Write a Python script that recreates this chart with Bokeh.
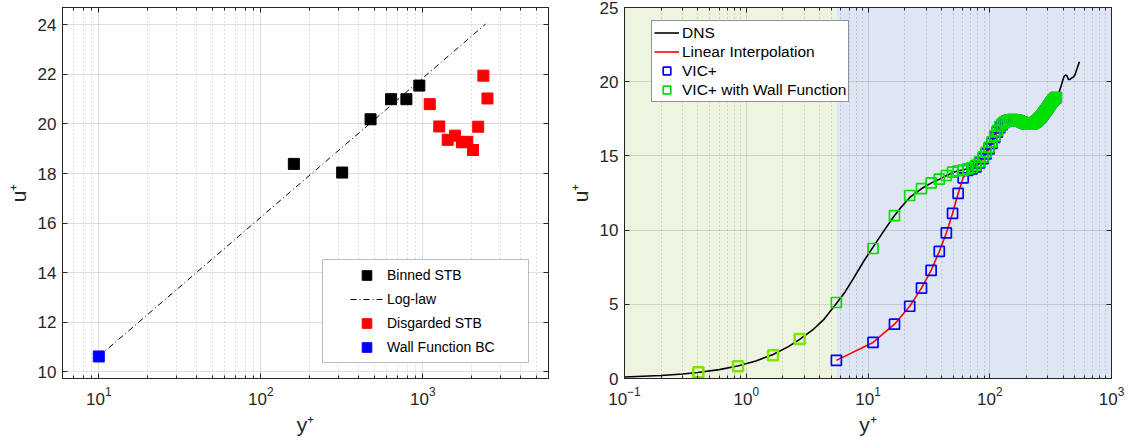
from bokeh.plotting import figure
from bokeh.layouts import row
from bokeh.models import (LogAxis, LinearAxis, Legend, LegendItem, BoxAnnotation,
                          FixedTicker, Range1d)
from bokeh.embed import file_html
from bokeh.resources import INLINE

# ---------------- data: left panel (STB profile) ----------------
binned_yp = [160, 318, 476, 637, 792, 952]
binned_up = [18.39, 18.04, 20.19, 21.00, 21.00, 21.55]
disc_yp = [1104, 1264, 1424, 1582, 1746, 1883, 2042, 2198, 2366, 2507]
disc_up = [20.80, 19.90, 19.36, 19.53, 19.26, 19.28, 18.95, 19.89, 21.95, 21.03]
wall_yp = [10]
wall_up = [10.62]
loglaw_yp = [10, 2440]
loglaw_up = [10.62, 24.03]
left_xticks = [10, 100, 1000]
left_yticks = [10, 12, 14, 16, 18, 20, 22, 24]

# ---------------- data: right panel (DNS vs VIC+) ----------------
region_edges = [0.1, 5.5, 1000]
region_top = 25
dns_yp = [0.1, 0.2, 0.3, 0.4, 0.6, 0.85, 1.2, 1.66, 2.2, 2.75, 3.6, 4.3, 5.5, 6.5, 7.6,
          9.3, 11.0, 13.5, 16.4, 19.0, 22.0, 27.6, 33.5, 39.0, 44.4, 50.0, 55.0, 60.5,
          66.0, 71.5, 77.0, 82.5, 88.0, 93.5, 99.0, 104.5, 110.0, 115.5, 121.0, 132.0,
          143.0, 154.0, 165.0, 176.0, 187.0, 198.0, 209.0, 220.0, 231.0, 242.0, 253.0,
          264.0, 275.0, 286.0, 297.0, 308.0, 319.0, 330.0, 341.0, 352.0, 368.0, 385.0,
          407.0, 420.0, 430.0, 443.0, 455.0, 470.0, 484.0, 500.0, 520.0, 545.0]
dns_up = [0.10, 0.20, 0.30, 0.40, 0.60, 0.84, 1.18, 1.62, 2.13, 2.64, 3.35, 3.95, 5.05, 5.85, 6.75,
          7.95, 8.85, 9.95, 10.95, 11.60, 12.20, 12.80, 13.20, 13.45, 13.68, 13.88, 14.00, 14.05,
          14.15, 14.25, 14.40, 14.66, 14.95, 15.25, 15.60, 16.00, 16.45, 16.75, 17.00, 17.27,
          17.40, 17.44, 17.41, 17.34, 17.26, 17.18, 17.14, 17.16, 17.23, 17.33, 17.48,
          17.64, 17.82, 18.02, 18.20, 18.40, 18.58, 18.74, 18.86, 18.93, 19.20, 19.70,
          20.35, 20.45, 20.40, 20.15, 20.15, 20.25, 20.30, 20.45, 20.85, 21.35]

wfnear_yp = [0.404, 0.856, 1.66, 2.75]
wfnear_up = [0.42, 0.83, 1.56, 2.66]

vicwf_yp = [5.5, 11, 16.5, 22, 27.5, 33, 38.5, 44, 49.5, 55, 60.5, 66, 71.5, 77, 82.5, 88,
            93.5, 99, 104.5, 110, 115.5, 121, 126.5, 132, 137.5, 143, 148.5, 154, 159.5, 165,
            170.5, 176, 181.5, 187, 192.5, 198, 203.5, 209, 214.5, 220, 225.5, 231, 236.5, 242,
            247.5, 253, 258.5, 264, 269.5, 275, 280.5, 286, 291.5, 297, 302.5, 308, 313.5, 319,
            324.5, 330, 335.5, 341, 346.5, 352]
vicwf_up = [5.12, 8.76, 10.97, 12.33, 12.80, 13.18, 13.43, 13.68, 13.90, 14.00, 14.04, 14.12,
            14.22, 14.36, 14.62, 14.92, 15.24, 15.58, 15.95, 16.35, 16.70, 16.98, 17.15, 17.27,
            17.35, 17.40, 17.43, 17.44, 17.43, 17.41, 17.38, 17.34, 17.30, 17.26, 17.22, 17.18,
            17.16, 17.14, 17.14, 17.16, 17.19, 17.23, 17.28, 17.33, 17.40, 17.48, 17.56, 17.64,
            17.73, 17.82, 17.92, 18.02, 18.10, 18.20, 18.30, 18.40, 18.50, 18.58, 18.66, 18.74,
            18.80, 18.86, 18.90, 18.93]

vic_yp = [5.5, 11, 16.5, 22, 27.5, 33, 38.5, 44, 49.5, 55, 60.5, 66, 71.5, 77, 82.5, 88,
          93.5, 99, 104.5, 110, 115.5, 121, 126.5, 132, 137.5, 143, 148.5, 154, 159.5, 165,
          170.5, 176, 181.5, 187, 192.5, 198, 203.5, 209, 214.5, 220, 225.5, 231, 236.5, 242,
          247.5, 253, 258.5, 264, 269.5, 275, 280.5, 286, 291.5, 297, 302.5, 308, 313.5, 319,
          324.5, 330, 335.5, 341, 346.5, 352]
vic_up = [1.22, 2.43, 3.66, 4.87, 6.09, 7.28, 8.56, 9.81, 11.13, 12.47, 13.52, 14.02,
          14.12, 14.26, 14.52, 14.82, 15.14, 15.48, 15.85, 16.25, 16.60, 16.90, 17.10, 17.25,
          17.35, 17.40, 17.43, 17.44, 17.43, 17.41, 17.38, 17.34, 17.30, 17.26, 17.22, 17.18,
          17.16, 17.14, 17.14, 17.16, 17.19, 17.23, 17.28, 17.33, 17.40, 17.48, 17.56, 17.64,
          17.73, 17.82, 17.92, 18.02, 18.10, 18.20, 18.30, 18.40, 18.50, 18.58, 18.66, 18.74,
          18.80, 18.86, 18.90, 18.93]
right_xticks = [0.1, 1, 10, 100, 1000]
right_yticks = [0, 5, 10, 15, 20, 25]

FONT = "Liberation Sans"
TXT = "#262626"
GREEN = "#00E000"
LIME = "#7FE600"
BLUE = "#0000FF"
RED = "#FF0000"


def log_minor(decades):
    return [m * 10.0 ** e for e in decades for m in range(2, 10)]


left_xticker = FixedTicker(ticks=left_xticks, minor_ticks=[6, 7, 8, 9] + log_minor([1, 2, 3]))
right_xticker = FixedTicker(ticks=right_xticks, minor_ticks=log_minor([-1, 0, 1, 2]))


def style_axis(ax, lab=True):
    ax.axis_line_color = TXT
    ax.major_tick_in = 5
    ax.major_tick_out = 0
    ax.minor_tick_in = 3
    ax.minor_tick_out = 0
    ax.major_tick_line_color = TXT
    ax.minor_tick_line_color = TXT
    ax.major_label_text_font = FONT
    ax.major_label_text_color = TXT
    ax.axis_label_text_font = FONT
    ax.axis_label_text_font_size = "21px"
    ax.axis_label_text_font_style = "normal"
    ax.axis_label_text_color = TXT
    if lab:
        ax.major_label_text_font_size = "17px"
    else:
        ax.major_label_text_font_size = "1px"
        ax.major_label_standoff = 0


def style_grid(p):
    p.xgrid.grid_line_color = TXT
    p.xgrid.grid_line_alpha = 0.15
    p.xgrid.minor_grid_line_color = TXT
    p.xgrid.minor_grid_line_alpha = 0.3
    p.xgrid.minor_grid_line_dash = "1 3"
    p.ygrid.grid_line_color = TXT
    p.ygrid.grid_line_alpha = 0.15
    p.outline_line_color = TXT
    p.outline_line_width = 1


def mirror(p, xticker, xticks, yticks):
    top = LogAxis(ticker=xticker, major_label_overrides={t: "" for t in xticks})
    style_axis(top, lab=False)
    p.add_layout(top, "above")
    right = LinearAxis(ticker=FixedTicker(ticks=yticks, minor_ticks=[]),
                       major_label_overrides={t: "" for t in yticks})
    style_axis(right, lab=False)
    p.add_layout(right, "right")


# ================= left panel =================
p1 = figure(width=560, height=448, x_axis_type="log",
            x_range=Range1d(5.97, 5970), y_range=Range1d(9.73, 24.70),
            min_border_left=62, min_border_right=12, min_border_top=7, min_border_bottom=70,
            output_backend="svg", toolbar_location=None, background_fill_color="white")
p1.xaxis.ticker = left_xticker
p1.yaxis.ticker = FixedTicker(ticks=left_yticks, minor_ticks=[])
for ax in p1.xaxis + p1.yaxis:
    style_axis(ax)
p1.xaxis.major_label_standoff = 8
p1.yaxis.major_label_standoff = 6
p1.xaxis.axis_label = "y⁺"
p1.yaxis.axis_label = "u⁺"
style_grid(p1)
mirror(p1, left_xticker, left_xticks, left_yticks)

r_log = p1.line(loglaw_yp, loglaw_up, line_color="black", line_width=1, line_dash="6 3 1 3")
r_bin = p1.scatter(binned_yp, binned_up, marker="square", size=11, fill_color="black", line_color="black")
r_disc = p1.scatter(disc_yp, disc_up, marker="square", size=11, fill_color=RED, line_color=RED)
r_wall = p1.scatter(wall_yp, wall_up, marker="square", size=11, fill_color=BLUE, line_color=BLUE)

box1 = BoxAnnotation(left=322, right=528, top=259, bottom=362,
                     left_units="canvas", right_units="canvas", top_units="canvas", bottom_units="canvas",
                     fill_color="white", fill_alpha=1, line_color=TXT, line_width=1, level="glyph")
p1.add_layout(box1)
leg1 = Legend(items=[LegendItem(label="Binned STB", renderers=[r_bin]),
                     LegendItem(label="Log-law", renderers=[r_log]),
                     LegendItem(label="Disgarded STB", renderers=[r_disc]),
                     LegendItem(label="Wall Function BC", renderers=[r_wall])],
              location=(288, 19), orientation="vertical", padding=0, margin=0, spacing=0,
              label_height=24, glyph_height=24, glyph_width=33, label_standoff=4,
              border_line_alpha=0, background_fill_alpha=0,
              label_text_font=FONT, label_text_font_size="14px", label_text_color="black")
p1.add_layout(leg1, "center")

# ================= right panel =================
p2 = figure(width=571, height=448, x_axis_type="log",
            x_range=Range1d(0.1, 1000), y_range=Range1d(0, 25),
            min_border_left=64, min_border_right=20, min_border_top=6, min_border_bottom=70,
            output_backend="svg", toolbar_location=None, background_fill_color="white")
p2.xaxis.ticker = right_xticker
p2.yaxis.ticker = FixedTicker(ticks=right_yticks, minor_ticks=[])
for ax in p2.xaxis + p2.yaxis:
    style_axis(ax)
p2.xaxis.major_label_standoff = 8
p2.yaxis.major_label_standoff = 6
p2.xaxis.axis_label = "y⁺"
p2.yaxis.axis_label = "u⁺"
style_grid(p2)
mirror(p2, right_xticker, right_xticks, right_yticks)

shade = p2.quad(left=region_edges[:-1], right=region_edges[1:], bottom=[0, 0],
                top=[region_top, region_top], fill_color=["#EDF5E1", "#DFE6F3"],
                line_color=None)
shade.level = "image"

r_dns = p2.line(dns_yp, dns_up, line_color="black", line_width=1.6)
r_lin = p2.line(vic_yp, vic_up, line_color=RED, line_width=1.6)
r_vic = p2.scatter(vic_yp, vic_up, marker="square", size=10, fill_color=None,
                   line_color=BLUE, line_width=1.7)
r_wfn = p2.scatter(wfnear_yp, wfnear_up, marker="square", size=10, fill_color=None,
                   line_color=LIME, line_width=2.5)
r_vwf = p2.scatter(vicwf_yp, vicwf_up, marker="square", size=10, fill_color=None,
                   line_color=GREEN, line_width=1.7)

leg2 = Legend(items=[LegendItem(label="DNS", renderers=[r_dns]),
                     LegendItem(label="Linear Interpolation", renderers=[r_lin]),
                     LegendItem(label="VIC+", renderers=[r_vic]),
                     LegendItem(label="VIC+ with Wall Function", renderers=[r_vwf])],
              location=(27, 276), orientation="vertical", padding=2, margin=0, spacing=0,
              label_height=19, glyph_height=19, glyph_width=25, label_standoff=3,
              border_line_color=TXT, border_line_width=1, background_fill_color="white",
              background_fill_alpha=1,
              label_text_font=FONT, label_text_font_size="15.5px", label_text_color="black")
p2.add_layout(leg2, "center")

layout = row(p1, p2, spacing=0)
open("out.html", "w").write(file_html(layout, INLINE))
